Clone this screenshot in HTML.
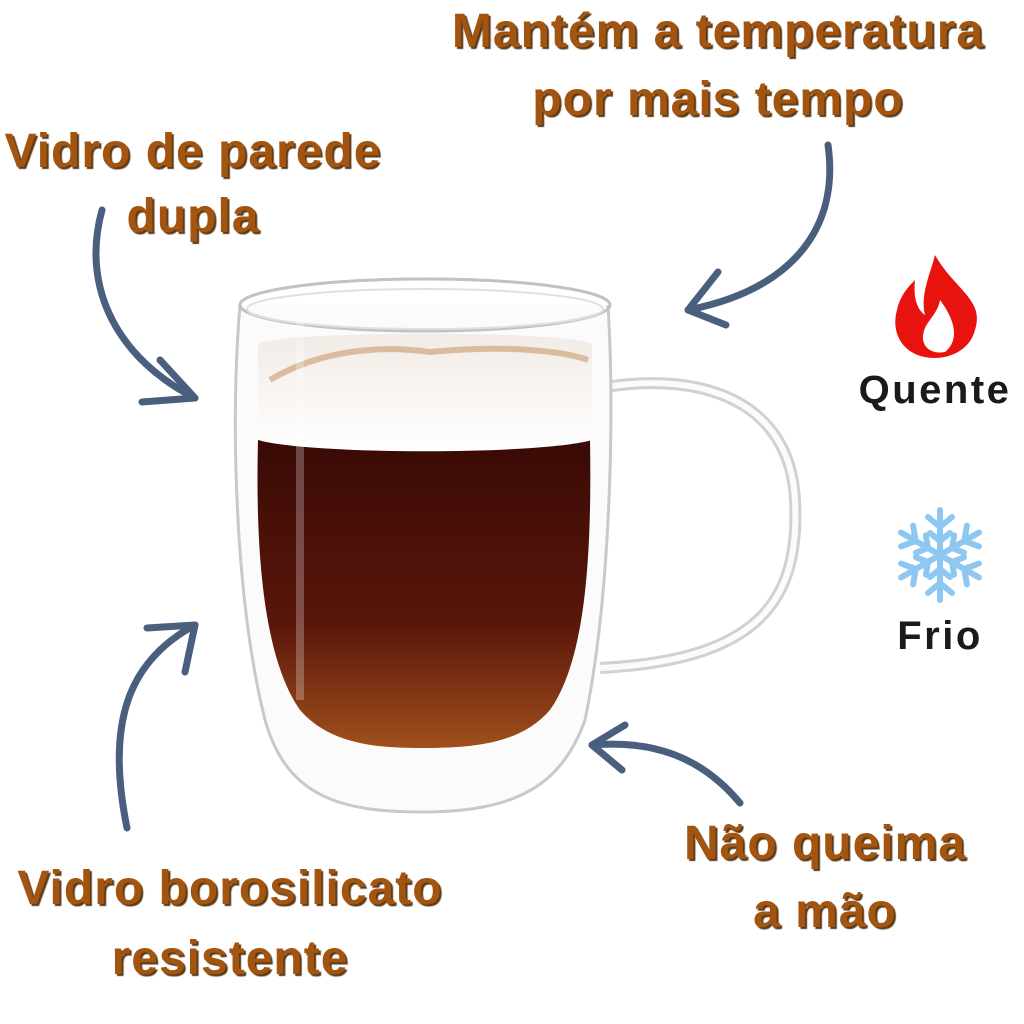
<!DOCTYPE html>
<html><head><meta charset="utf-8"><style>
html,body{margin:0;padding:0;background:#fff;}
body{width:1024px;height:1024px;position:relative;overflow:hidden;font-family:"Liberation Sans",sans-serif;}
.t{position:absolute;font-weight:bold;color:#a3540f;text-shadow:2px 2px 1px #5a3a1a;font-size:48px;line-height:1;text-align:center;white-space:nowrap;letter-spacing:1px}
.k{position:absolute;font-weight:bold;color:#1a1a1a;font-size:40px;line-height:1;text-align:center;letter-spacing:2.5px}
</style></head><body>
<svg width="1024" height="1024" style="position:absolute;left:0;top:0">
<defs>
<linearGradient id="cof" x1="0" y1="0" x2="0" y2="1">
<stop offset="0" stop-color="#3a0a06"/><stop offset="0.6" stop-color="#5a160b"/><stop offset="1" stop-color="#a0501c"/>
</linearGradient>
<linearGradient id="fm" x1="0" y1="0" x2="0" y2="1">
<stop offset="0" stop-color="#f2ebe6"/><stop offset="1" stop-color="#ffffff"/>
</linearGradient>
</defs>
<!-- handle -->
<path d="M600,388 C700,370 790,400 795,500 C800,600 760,660 600,668" fill="none" stroke="#cfd2d2" stroke-width="12"/>
<path d="M600,388 C700,370 790,400 795,500 C800,600 760,660 600,668" fill="none" stroke="#fbfbfb" stroke-width="6"/>
<!-- glass body -->
<path d="M240,305 C230,420 235,600 265,720 C285,790 330,812 420,812 C510,812 560,790 585,720 C610,600 615,420 608,305" fill="#fbfbfb" stroke="#c6caca" stroke-width="3"/>
<!-- coffee -->
<path d="M258,440 C255,560 265,660 300,710 C330,745 380,748 420,748 C470,748 520,745 550,710 C585,660 592,560 590,440 Z" fill="url(#cof)"/>
<!-- foam -->
<path d="M258,345 C258,330 590,330 592,345 L592,440 C540,455 310,455 258,440 Z" fill="url(#fm)"/>
<path d="M270,380 C320,350 380,345 430,352 C500,345 560,350 588,360" fill="none" stroke="#c89a6c" stroke-width="6" opacity="0.6"/>
<!-- rim -->
<ellipse cx="425" cy="305" rx="185" ry="26" fill="none" stroke="#bfc3c3" stroke-width="3"/>
<ellipse cx="425" cy="309" rx="178" ry="20" fill="none" stroke="#dfe1e1" stroke-width="2"/>
<line x1="300" y1="300" x2="300" y2="700" stroke="#ffffff" stroke-opacity="0.25" stroke-width="8"/>
<!-- arrows -->
<g fill="none" stroke="#4a5f7e" stroke-width="7" stroke-linecap="round" stroke-linejoin="round">
<path d="M102,210 C80,290 120,360 195,398"/>
<path d="M160,360 L195,398 L142,402"/>
<path d="M828,145 C840,230 790,290 688,310"/>
<path d="M718,272 L688,310 L726,325"/>
<path d="M127,828 C105,720 130,660 195,625"/>
<path d="M147,628 L195,625 L185,672"/>
<path d="M740,803 C700,755 650,740 592,745"/>
<path d="M625,725 L592,745 L622,770"/>
</g>
<!-- flame -->
<path d="M935,255 C955,290 985,300 975,330 C970,350 950,358 935,358 C905,358 890,335 897,310 C900,295 910,285 915,280 C913,300 918,310 925,315 C920,295 930,275 935,255 Z" fill="#e8120e"/>
<path d="M940,300 C955,320 960,340 945,352 C930,355 918,345 925,328 C930,318 938,312 940,300 Z" fill="#fff"/>
<!-- snowflake -->
<g stroke="#8ec8f2" stroke-width="6" stroke-linecap="round" fill="none" transform="translate(940,555)">
<g id="arm"><line x1="0" y1="0" x2="0" y2="-45"/><path d="M-12,-38 L0,-28 L12,-38"/><path d="M-10,-22 L0,-14 L10,-22"/></g>
<use href="#arm" transform="rotate(60)"/><use href="#arm" transform="rotate(120)"/><use href="#arm" transform="rotate(180)"/><use href="#arm" transform="rotate(240)"/><use href="#arm" transform="rotate(300)"/>
</g>
</svg>
<div class="t" style="left:418px;top:8px;width:600px">Mantém a temperatura</div>
<div class="t" style="left:418px;top:76px;width:600px">por mais tempo</div>
<div class="t" style="left:-2px;top:128px;width:390px">Vidro de parede</div>
<div class="t" style="left:-2px;top:193px;width:390px">dupla</div>
<div class="t" style="left:620px;top:820px;width:410px">Não queima</div>
<div class="t" style="left:620px;top:888px;width:410px">a mão</div>
<div class="t" style="left:0;top:865px;width:460px">Vidro borosilicato</div>
<div class="t" style="left:0;top:935px;width:460px">resistente</div>
<div class="k" style="left:845px;top:370px;width:180px">Quente</div>
<div class="k" style="left:850px;top:616px;width:180px">Frio</div>
</body></html>
